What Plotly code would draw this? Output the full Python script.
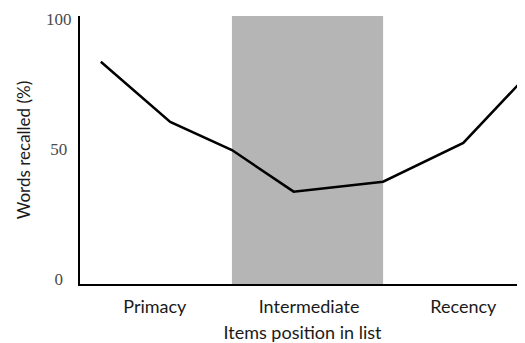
import plotly.graph_objects as go

# Data
positions = [0.65, 1.1, 1.5, 1.9, 2.48, 3.0, 3.38]
recalled = [83.4, 60.3, 49.5, 33.5, 37.3, 52.2, 76.1]
categories = ["Primacy", "Intermediate", "Recency"]
category_pos = [1, 2, 3]
y_ticks = [0, 50, 100]
y_ticktext = ["0\u00a0\u00a0", "50\u00a0", "100"]
band = [1.5, 2.48]

fig = go.Figure()
fig.add_trace(go.Scatter(
    x=positions, y=recalled, mode="lines",
    line=dict(color="black", width=2.5),
    showlegend=False, hoverinfo="skip", cliponaxis=False,
))

fig.add_shape(type="rect", xref="x", yref="paper",
              x0=band[0], x1=band[1], y0=0, y1=1,
              fillcolor="#b5b5b5", line=dict(width=0), layer="below")

fig.update_layout(
    width=517, height=335,
    margin=dict(l=72, r=0, t=8, b=59),
    paper_bgcolor="white", plot_bgcolor="white",
    font=dict(family="Lato", color="#1a1a1a"),
)
fig.update_xaxes(
    range=[0.515, 3.4],
    tickvals=category_pos, ticktext=categories,
    tickfont=dict(family="Lato", size=18, color="#1a1a1a"),
    showgrid=False, zeroline=False,
    showline=True, linecolor="black", linewidth=2,
    ticks="", ticklabelstandoff=5,
    title=dict(text="Items position in list", font=dict(size=18, color="#1a1a1a"), standoff=11),
)
fig.update_yaxes(
    range=[-2, 101],
    tickvals=y_ticks, ticktext=y_ticktext,
    tickfont=dict(family="Liberation Serif", size=17, color="#4a4a4a"),
    showgrid=False, zeroline=False,
    showline=True, linecolor="black", linewidth=2,
    ticks="", ticklabelstandoff=3,
    title=dict(text="Words recalled (%)", font=dict(size=17, color="#1a1a1a"), standoff=11),
)

fig.write_html("out.html")
